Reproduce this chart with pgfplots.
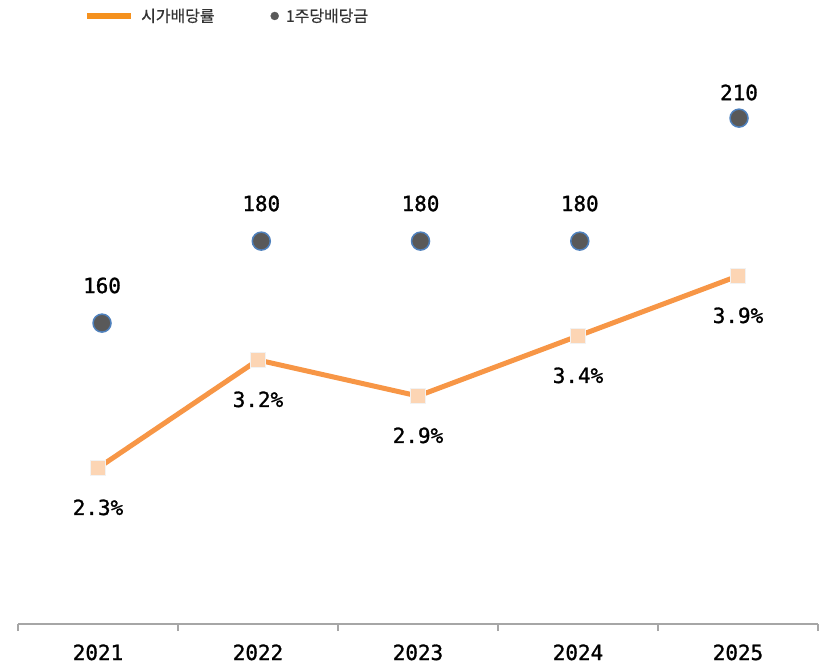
\documentclass[border=0pt]{standalone}
\usepackage{pgfplots}
\pgfplotsset{compat=1.18}
\usepackage{fontspec}
\setmainfont{DejaVu Sans}
\setmonofont{DejaVu Sans Mono}
\newfontfamily\labfont[FakeBold=1.2]{DejaVu Sans Mono}
\newfontfamily\kr[FakeBold=0.6]{Noto Sans CJK KR}
\definecolor{lineor}{HTML}{F79646}
\definecolor{legor}{HTML}{F5911E}
\definecolor{sqfill}{HTML}{FCD5B4}
\definecolor{sqedge}{HTML}{F2F2F2}
\definecolor{dotfill}{HTML}{595959}
\definecolor{dotedge}{HTML}{4F81BD}
\definecolor{axgray}{HTML}{A6A6A6}
\definecolor{legtext}{HTML}{333333}
\newcommand{\lab}{\fontsize{21}{21}\selectfont\labfont}
\begin{document}
\begin{tikzpicture}
\useasboundingbox (0,0) rectangle (823bp,666bp);
\begin{axis}[
  /pgf/number format/assume math mode=true,
  at={(18bp,42bp)}, anchor=south west,
  width=800bp, height=594bp, scale only axis,
  xmin=0.5, xmax=5.5, ymin=1.0, ymax=5.95,
  axis x line*=bottom, axis y line=none,
  x axis line style={axgray, line width=1.5bp, -},
  xtick={1,2,3,4,5}, xticklabels={2021,2022,2023,2024,2025},
  major tick length=0pt,
  extra x ticks={0.5,1.5,2.5,3.5,4.5,5.5},
  extra x tick labels={},
  extra x tick style={major tick length=7bp, tick align=outside,
     tick style={axgray, line width=1.5bp}},
  xticklabel style={font=\lab, anchor=base, inner sep=0pt, yshift=-36bp},
  legend columns=2,
  legend style={draw=none, fill=none, at={(0.0825,1.0236)}, anchor=west,
    inner sep=0pt, font=\kr\fontsize{16}{16}\selectfont, text=legtext,
    /tikz/every odd column/.append style={column sep=5bp},
    /tikz/every even column/.append style={column sep=54bp}},
  clip=false,
]
\addplot[lineor, line width=5bp, mark=square*, mark size=7.5bp,
  mark options={fill=sqfill, draw=sqedge, line width=1bp},
  nodes near coords={\pgfmathprintnumber[fixed,fixed zerofill,precision=1,assume math mode=true]{\pgfplotspointmeta}\%},
  every node near coord/.append style={font=\lab, text=black, anchor=base, inner sep=0pt, yshift=-47bp},
  forget plot]
  coordinates {(1,2.3) (2,3.2) (3,2.9) (4,3.4) (5,3.9)};
\addlegendimage{legend image code/.code={\draw[legor, line width=6bp] (0bp,0bp) -- (44bp,0bp);}}
\addlegendentry{시가배당률}
\addlegendimage{legend image code/.code={\fill[dotfill] (4bp,0bp) circle (4bp);}}
\addlegendentry{1주당배당금}
\end{axis}
\begin{axis}[
  /pgf/number format/assume math mode=true,
  at={(22.4bp,42bp)}, anchor=south west,
  width=796.25bp, height=594bp, scale only axis,
  xmin=0.5, xmax=5.5, ymin=86.6, ymax=231.5,
  hide axis, clip=false,
]
\addplot[only marks, mark=*, mark size=9bp,
  mark options={fill=dotfill, draw=dotedge, line width=1.5bp},
  nodes near coords, point meta=y,
  every node near coord/.append style={font=\lab, text=black, anchor=base, inner sep=0pt, yshift=30bp}]
  coordinates {(1,160) (2,180) (3,180) (4,180)};
\addplot[only marks, mark=*, mark size=9bp,
  mark options={fill=dotfill, draw=dotedge, line width=1.5bp},
  nodes near coords, point meta=y,
  every node near coord/.append style={font=\lab, text=black, anchor=base, inner sep=0pt, yshift=18bp}]
  coordinates {(5,210)};
\end{axis}
\end{tikzpicture}
\end{document}
